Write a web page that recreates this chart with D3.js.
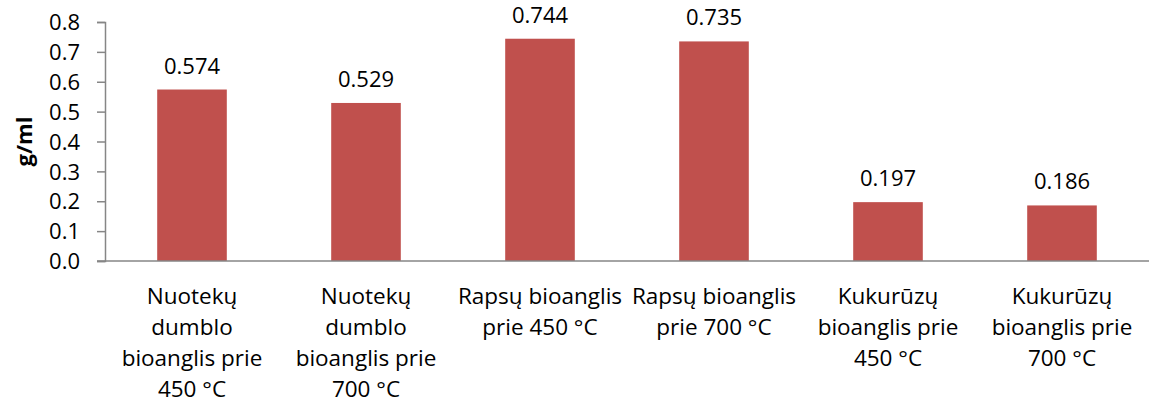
<!DOCTYPE html>
<html><head><meta charset="utf-8">
<script src="https://cdn.jsdelivr.net/npm/d3@7"></script>
<style>body{margin:0;background:#fff}svg{display:block}text{font-family:"Open Sans",sans-serif;fill:#000}</style>
</head><body><svg id="c" width="1150" height="407"></svg>
<script>
const categories = [
  ["Nuotekų","dumblo","bioanglis prie","450 °C"],
  ["Nuotekų","dumblo","bioanglis prie","700 °C"],
  ["Rapsų bioanglis","prie 450 °C"],
  ["Rapsų bioanglis","prie 700 °C"],
  ["Kukurūzų","bioanglis prie","450 °C"],
  ["Kukurūzų","bioanglis prie","700 °C"]
];
const values = [0.574, 0.529, 0.744, 0.735, 0.197, 0.186];
const valueLabels = ["0.574","0.529","0.744","0.735","0.197","0.186"];
const yTicks = [0,0.1,0.2,0.3,0.4,0.5,0.6,0.7,0.8];
const yTitle = "g/ml";

const svg = d3.select("#c");
const m = {l:105, r:1, t:22, b:146};
const W = 1150, H = 407;
const x = d3.scaleBand().domain(d3.range(values.length)).range([m.l, W-m.r]).paddingInner(0.6).paddingOuter(0.3);
const y = d3.scaleLinear().domain([0,0.8]).range([H-m.b, m.t]);
const axisColor = "#868686";

// y axis
const ya = svg.append("g").attr("transform",`translate(${m.l},0)`)
  .call(d3.axisLeft(y).tickValues(yTicks).tickFormat(d3.format(".1f")).tickSize(8).tickPadding(17));
ya.select(".domain").attr("stroke",axisColor).attr("stroke-width",1.5);
ya.selectAll(".tick line").attr("stroke",axisColor).attr("stroke-width",1.5);
ya.selectAll(".tick text").style("font-size","22px").attr("fill","#000").attr("dy","0.35em");

// bars
svg.append("g").selectAll("rect").data(values).join("rect")
  .attr("x",(d,i)=>x(i)).attr("width",x.bandwidth())
  .attr("y",d=>y(d)).attr("height",d=>y(0)-y(d))
  .attr("fill","#C0504D");

// x axis line
svg.append("line").attr("x1",m.l-8).attr("x2",W-m.r).attr("y1",y(0)).attr("y2",y(0))
  .attr("stroke",axisColor).attr("stroke-width",1.5);

// value labels
svg.append("g").selectAll("text").data(values).join("text")
  .attr("x",(d,i)=>x(i)+x.bandwidth()/2).attr("y",d=>y(d)-16)
  .attr("text-anchor","middle").style("font-size","22px")
  .text((d,i)=>valueLabels[i]);

// category labels
const cg = svg.append("g");
categories.forEach((lines,i)=>{
  const t = cg.append("text").attr("text-anchor","middle").style("font-size","22.5px")
    .attr("x", x(i)+x.bandwidth()/2).attr("y", y(0)+43);
  lines.forEach((ln,j)=>t.append("tspan").attr("x",x(i)+x.bandwidth()/2).attr("dy", j===0?0:31).text(ln));
});

// y title
svg.append("text").attr("transform",`translate(32,${(y(0)+y(0.8))/2}) rotate(-90)`)
  .attr("text-anchor","middle").style("font-size","22px").style("font-weight","bold").text(yTitle);
</script></body></html>
